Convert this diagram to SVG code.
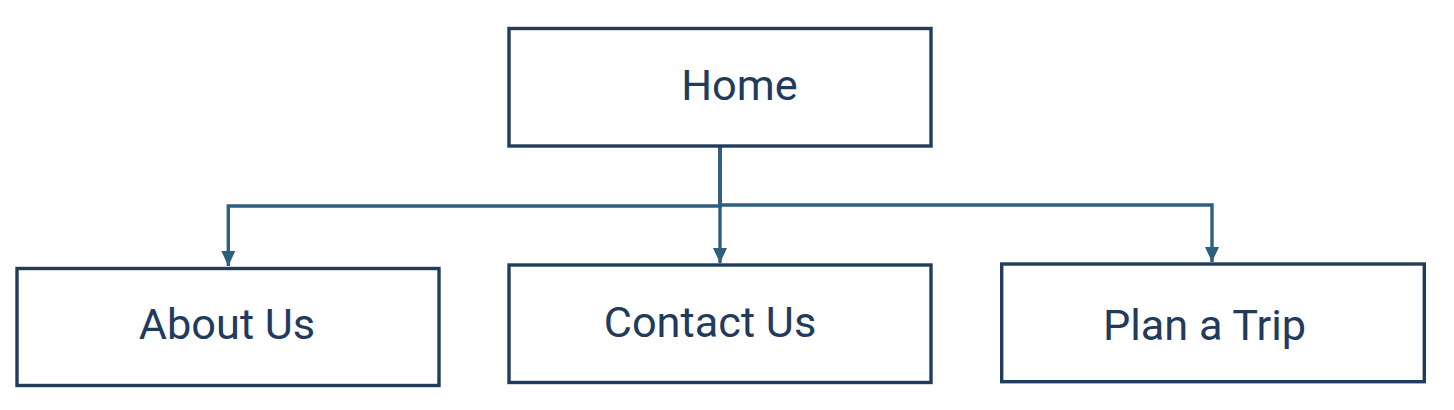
<svg xmlns="http://www.w3.org/2000/svg" width="1454" height="410" viewBox="0 0 1454 410">
<style>
.box{fill:#ffffff;stroke:#223c5e;stroke-width:3.4}
.lbl{font-family:Roboto,"Liberation Sans",sans-serif;font-size:43.3px;fill:#223a5c;text-anchor:middle}
.conn{fill:none;stroke:#2e5f7f;stroke-width:3.4}
</style>
<defs>
<marker id="arr" markerUnits="userSpaceOnUse" markerWidth="16" markerHeight="14" refX="15" refY="7" orient="auto">
<path d="M0,0 L15,7 L0,14 Z" fill="#2e5f7f"/>
</marker>
</defs>
<rect width="1454" height="410" fill="#ffffff"/>
<g id="connectors">
<path class="conn" d="M720,147 V206 H228.3 V266" marker-end="url(#arr)"/>
<path class="conn" d="M720,147 V263" marker-end="url(#arr)"/>
<path class="conn" d="M720,147 V205 H1212 V262" marker-end="url(#arr)"/>
</g>
<g id="home">
<rect class="box" x="509" y="28.5" width="422" height="117.5"/>
<text class="lbl" x="739.5" y="100">Home</text>
</g>
<g id="about">
<rect class="box" x="17" y="268.5" width="422" height="117"/>
<text class="lbl" x="227" y="338.5">About Us</text>
</g>
<g id="contact">
<rect class="box" x="509" y="265" width="422" height="117.5"/>
<text class="lbl" x="710" y="336.7">Contact Us</text>
</g>
<g id="plan">
<rect class="box" x="1001.7" y="264" width="422.6" height="117.7"/>
<text class="lbl" x="1204.5" y="340">Plan a Trip</text>
</g>
</svg>
